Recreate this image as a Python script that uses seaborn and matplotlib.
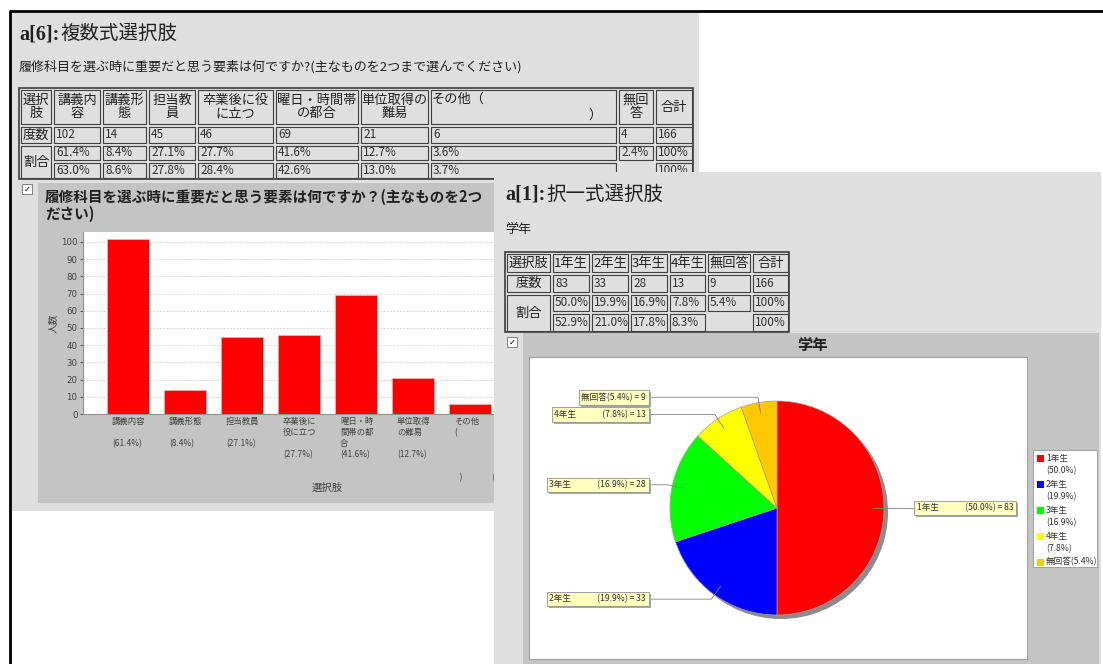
import matplotlib
matplotlib.use("Agg")
import matplotlib.pyplot as plt
import matplotlib.transforms as mtransforms
from matplotlib.patches import Rectangle, Circle
from matplotlib.lines import Line2D
import numpy as np
import pandas as pd
import seaborn as sns

# ---- a[6]: multiple-choice question ----
q6_choices = ["講義内容", "講義形態", "担当教員", "卒業後に役に立つ",
              "曜日・時間帯の都合", "単位取得の難易", "その他", "無回答"]
q6_counts = [102, 14, 45, 46, 69, 21, 6, 4]
q6_total = 166
q6_answered = 162
q6_table_heads = ["講義内\n容", "講義形\n態", "担当教\n員", "卒業後に役\nに立つ",
                  "曜日・時間帯\nの都合", "単位取得の\n難易", "その他（", "無回\n答"]
q6_axis_labels = ["講義内容\n\n{}", "講義形態\n\n{}", "担当教員\n\n{}",
                  "卒業後に\n役に立つ\n\n{}", "曜日・時\n間帯の都\n合\n{}",
                  "単位取得\nの難易\n\n{}", "その他\n(\n\n\n\n   )                {}",
                  "無回答\n\n{}"]

# ---- a[1]: single-choice question ----
q1_choices = ["1年生", "2年生", "3年生", "4年生", "無回答"]
q1_counts = [83, 33, 28, 13, 9]
q1_total = 166
q1_answered = 157
q1_colors = ["#ff0000", "#0000ff", "#00ff00", "#ffff00", "#ffc800"]

sns.set_style("white")
plt.rcParams["font.family"] = ["Noto Sans CJK JP", "DejaVu Sans"]

W, H = 1103, 664
fig = plt.figure(figsize=(W / 100, H / 100), dpi=100)
fig.patch.set_facecolor("white")

# left window content stops where the right window starts
WIN2_LEFT = 494
left_clip = mtransforms.TransformedBbox(
    mtransforms.Bbox([[0, 0], [WIN2_LEFT / W, 1]]), fig.transFigure)


def fx(x):
    return x / W


def fy(y):
    return 1 - y / H


def rect(x0, y0, x1, y1, fc="none", ec="none", lw=0.0, z=1):
    r = Rectangle((fx(x0), fy(y1)), (x1 - x0) / W, (y1 - y0) / H,
                  transform=fig.transFigure, facecolor=fc, edgecolor=ec,
                  linewidth=lw, zorder=z)
    fig.add_artist(r)
    return r


def line(xs, ys, color="black", lw=1.0, z=1):
    fig.add_artist(Line2D([fx(x) for x in xs], [fy(y) for y in ys],
                          transform=fig.transFigure, color=color, lw=lw, zorder=z))


def text(x, y, s, z=1, **kw):
    kw.setdefault("va", "center")
    return fig.text(fx(x), fy(y), s, zorder=z, **kw)


def clip_left(t):
    t.set_clip_box(left_clip)
    t.set_clip_on(True)
    return t


def axes_px(x0, y0, x1, y1, z):
    ax = fig.add_axes([fx(x0), fy(y1), (x1 - x0) / W, (y1 - y0) / H])
    ax.set_zorder(z)
    return ax


def checkbox(x, y, z):
    rect(x, y, x + 10, y + 10, fc="white", ec="#808080", lw=0.7, z=z)
    text(x + 5, y + 5, "✓", z=z + 0.01, ha="center", fontsize=6,
         family=["DejaVu Sans"], color="black", fontweight="bold")


def heading(x, y, tag, label, z):
    text(x, y, tag, z=z, family=["Liberation Serif"], fontweight="bold",
         fontsize=14.5, va="baseline", color="#202020")
    text(x + 41, y, label, z=z, fontsize=14, va="baseline", color="#202020")


def pct(n, total):
    return f"{n / total * 100:.1f}%"


def draw_table(xe, ye, cells, z, fs=9.5):
    rect(xe[0], ye[0], xe[-1], ye[-1], ec="#303030", lw=1.1, z=z)
    for c0, c1, r0, r1, s, ha in cells:
        rect(xe[c0] + 2, ye[r0] + 2, xe[c1] - 1, ye[r1] - 1,
             ec="#404040", lw=0.8, z=z)
        if not s:
            continue
        ym = (ye[r0] + ye[r1]) / 2 + 0.5
        if ha == "center":
            text((xe[c0] + xe[c1]) / 2 + 0.5, ym, s, z=z + 0.01, ha="center",
                 fontsize=fs, color="#202020", linespacing=1.0)
        else:
            text(xe[c0] + 4, ym, s, z=z + 0.01, ha="left",
                 fontsize=fs - 1, color="#303030")


# page frame
line([10, 10, 1103], [664, 11, 11], color="black", lw=2.0, z=0.5)

# ================= window 1 : a[6] =================
rect(12, 13, 699, 511, fc="#dfdfdf", z=1)
heading(19, 39, "a[6]:", "複数式選択肢", z=1.1)
text(19, 67, "履修科目を選ぶ時に重要だと思う要素は何ですか?(主なものを2つまで選んでください)",
     z=1.1, fontsize=9.4, color="#202020")

xe6 = [19, 52, 101, 147, 196, 274, 359, 429, 617, 654, 693]
ye6 = [88, 125, 144, 161, 179]
cells6 = [(0, 1, 0, 1, "選択\n肢", "center")]
for i, h in enumerate(q6_table_heads):
    cells6.append((i + 1, i + 2, 0, 1, "" if h == "その他（" else h, "center"))
cells6.append((9, 10, 0, 1, "合計", "center"))
cells6.append((0, 1, 1, 2, "度数", "center"))
for i, n in enumerate(q6_counts):
    cells6.append((i + 1, i + 2, 1, 2, str(n), "left"))
cells6.append((9, 10, 1, 2, str(q6_total), "left"))
cells6.append((0, 1, 2, 4, "割合", "center"))
for i, n in enumerate(q6_counts):
    cells6.append((i + 1, i + 2, 2, 3, pct(n, q6_total), "left"))
cells6.append((9, 10, 2, 3, "100%", "left"))
for i, n in enumerate(q6_counts[:-1]):
    cells6.append((i + 1, i + 2, 3, 4, pct(n, q6_answered), "left"))
cells6.append((9, 10, 3, 4, "100%", "left"))
draw_table(xe6, ye6, cells6, z=1.1)
text(432, 99, "その他（", z=1.12, ha="left", fontsize=9.5, color="#202020")
text(588, 115, "）", z=1.12, ha="left", fontsize=9.5, color="#202020")

# chart panel for a[6]
rect(38, 183, 620, 503, fc="#c4c4c4", z=1.2)
checkbox(22, 184, 1.25)
clip_left(text(45, 197, "履修科目を選ぶ時に重要だと思う要素は何ですか？(主なものを2つ",
               z=1.3, fontsize=10.5, fontweight="bold", color="#202020"))
text(45, 214, "ださい)", z=1.3, fontsize=10.5, fontweight="bold", color="#202020")
text(53, 323, "人数", z=1.3, fontsize=7, rotation=90, ha="center", color="#404040")
text(327, 488, "選択肢", z=1.3, fontsize=7.5, ha="center", color="#404040")

ax1 = axes_px(83, 232, 567, 414, z=1.5)
df6 = pd.DataFrame({"choice": q6_choices, "count": q6_counts})
sns.barplot(data=df6, x="choice", y="count", order=q6_choices, color="#ff0000",
            saturation=1, width=0.737, edgecolor="#f0b0b0", linewidth=0.6, ax=ax1)
ax1.set_xlim(-0.79, 7.70)
ax1.set_ylim(0, 105.8)
ax1.set_yticks(range(0, 101, 10))
ax1.set_xticks([])
ax1.set_xlabel("")
ax1.set_ylabel("")
ax1.tick_params(axis="y", labelsize=6.2, colors="#404040", length=2, width=0.6,
                pad=2, left=True)
for lab in ax1.get_yticklabels():
    lab.set_family(["DejaVu Sans"])
ax1.yaxis.grid(True, linestyle=(0, (2, 2)), color="#c8c8c8", linewidth=0.6)
ax1.set_axisbelow(True)
for side in ("top", "right"):
    ax1.spines[side].set_visible(False)
for side in ("left", "bottom"):
    ax1.spines[side].set_color("#909090")
    ax1.spines[side].set_linewidth(0.8)

# category labels; a label that would start under the right window is not drawn
label_dx = -16
for i, (tmpl, n) in enumerate(zip(q6_axis_labels, q6_counts)):
    start_px = ax1.transData.transform((i, 0))[0] + label_dx
    if start_px >= WIN2_LEFT:
        continue
    ann = ax1.annotate(tmpl.format("(" + pct(n, q6_total) + ")"), xy=(i, 0),
                       xytext=(label_dx, -3), textcoords="offset pixels", ha="left",
                       va="top", fontsize=6, color="#404040", linespacing=1.3,
                       annotation_clip=False)
    clip_left(ann)

# ================= window 2 : a[1] =================
rect(WIN2_LEFT, 172, 1101, 666, fc="#dfdfdf", z=5)
heading(505, 200, "a[1]:", "択一式選択肢", z=5.1)
text(505, 229, "学年", z=5.1, fontsize=9.4, color="#202020")

xe1 = [505, 551, 590, 629, 668, 706, 751, 789]
ye1 = [252, 273, 293, 312, 332]
cells1 = [(0, 1, 0, 1, "選択肢", "center")]
for i, h in enumerate(q1_choices):
    cells1.append((i + 1, i + 2, 0, 1, h, "center"))
cells1.append((6, 7, 0, 1, "合計", "center"))
cells1.append((0, 1, 1, 2, "度数", "center"))
for i, n in enumerate(q1_counts):
    cells1.append((i + 1, i + 2, 1, 2, str(n), "left"))
cells1.append((6, 7, 1, 2, str(q1_total), "left"))
cells1.append((0, 1, 2, 4, "割合", "center"))
for i, n in enumerate(q1_counts):
    cells1.append((i + 1, i + 2, 2, 3, pct(n, q1_total), "left"))
cells1.append((6, 7, 2, 3, "100%", "left"))
for i, n in enumerate(q1_counts[:-1]):
    cells1.append((i + 1, i + 2, 3, 4, pct(n, q1_answered), "left"))
cells1.append((6, 7, 3, 4, "100%", "left"))
draw_table(xe1, ye1, cells1, z=5.1)

rect(523, 333, 1099, 666, fc="#c4c4c4", z=5.2)
checkbox(507, 337, 5.25)
text(812, 345, "学年", z=5.3, fontsize=11, fontweight="bold", ha="center",
     color="#202020")

ax2 = axes_px(529, 357, 1027, 659, z=6)
cx, cy, r = 248, 151, 107
ax2.add_patch(Circle((cx + 4, cy - 4), r, facecolor="#8c8c8c", edgecolor="none",
                     zorder=0.5))
ax2.pie(q1_counts, colors=q1_colors, startangle=90, counterclock=False,
        center=(cx, cy), radius=r,
        wedgeprops=dict(edgecolor="#a0a0a0", linewidth=0.5))
ax2.set_aspect("auto")
ax2.set_xlim(0, 498)
ax2.set_ylim(0, 302)
ax2.set_frame_on(True)
ax2.set_facecolor("white")
for sp in ax2.spines.values():
    sp.set_visible(True)
    sp.set_color("#a0a0a0")
    sp.set_linewidth(0.8)
ax2.set_xticks([])
ax2.set_yticks([])

shadow_tr = mtransforms.offset_copy(ax2.transData, fig=fig, x=2, y=-2, units="dots")
cum = np.cumsum([0] + q1_counts) / q1_total
for i, (name, n) in enumerate(zip(q1_choices, q1_counts)):
    theta = 2 * np.pi * (cum[i] + cum[i + 1]) / 2
    dx, dy = np.sin(theta), np.cos(theta)
    p0 = (cx + 0.9 * r * dx, cy + 0.9 * r * dy)
    p1 = (cx + 1.05 * r * dx, cy + 1.05 * r * dy)
    right = dx > 0
    xb = 386 if right else 119
    ax2.plot([p0[0], p1[0], xb], [p0[1], p1[1], p1[1]], color="#808080",
             lw=0.6, zorder=3)
    gap = "" if name == "無回答" else " " * 14
    lab = f"{name}{gap}({pct(n, q1_total)}) = {n}"
    ha = "left" if right else "right"
    xt = xb + 2 if right else xb - 2
    ax2.text(xt, p1[1], lab, transform=shadow_tr, ha=ha, va="center", fontsize=6.2,
             color="#a8a8a8", zorder=3.5,
             bbox=dict(boxstyle="square,pad=0.3", fc="#a8a8a8", ec="none"))
    ax2.text(xt, p1[1], lab, ha=ha, va="center", fontsize=6.2, color="#303030",
             zorder=4,
             bbox=dict(boxstyle="square,pad=0.3", fc="#ffffc0", ec="#909090", lw=0.6))

# legend
rect(1033, 450, 1097, 567, fc="white", ec="#a0a0a0", lw=0.7, z=8)
for i, (name, n, col) in enumerate(zip(q1_choices, q1_counts, q1_colors)):
    y = 458 + 26 * i
    rect(1037, y - 3.5, 1044, y + 3.5, fc=col, z=8.1)
    p = "(" + pct(n, q1_total) + ")"
    if name == "無回答":
        text(1046, y, name + p, z=8.1, ha="left", fontsize=6.2, color="#303030")
    else:
        text(1046, y, name, z=8.1, ha="left", fontsize=6.2, color="#303030")
        text(1046, y + 13, p, z=8.1, ha="left", fontsize=6.2, color="#303030")

fig.savefig("out.png", dpi=100)
